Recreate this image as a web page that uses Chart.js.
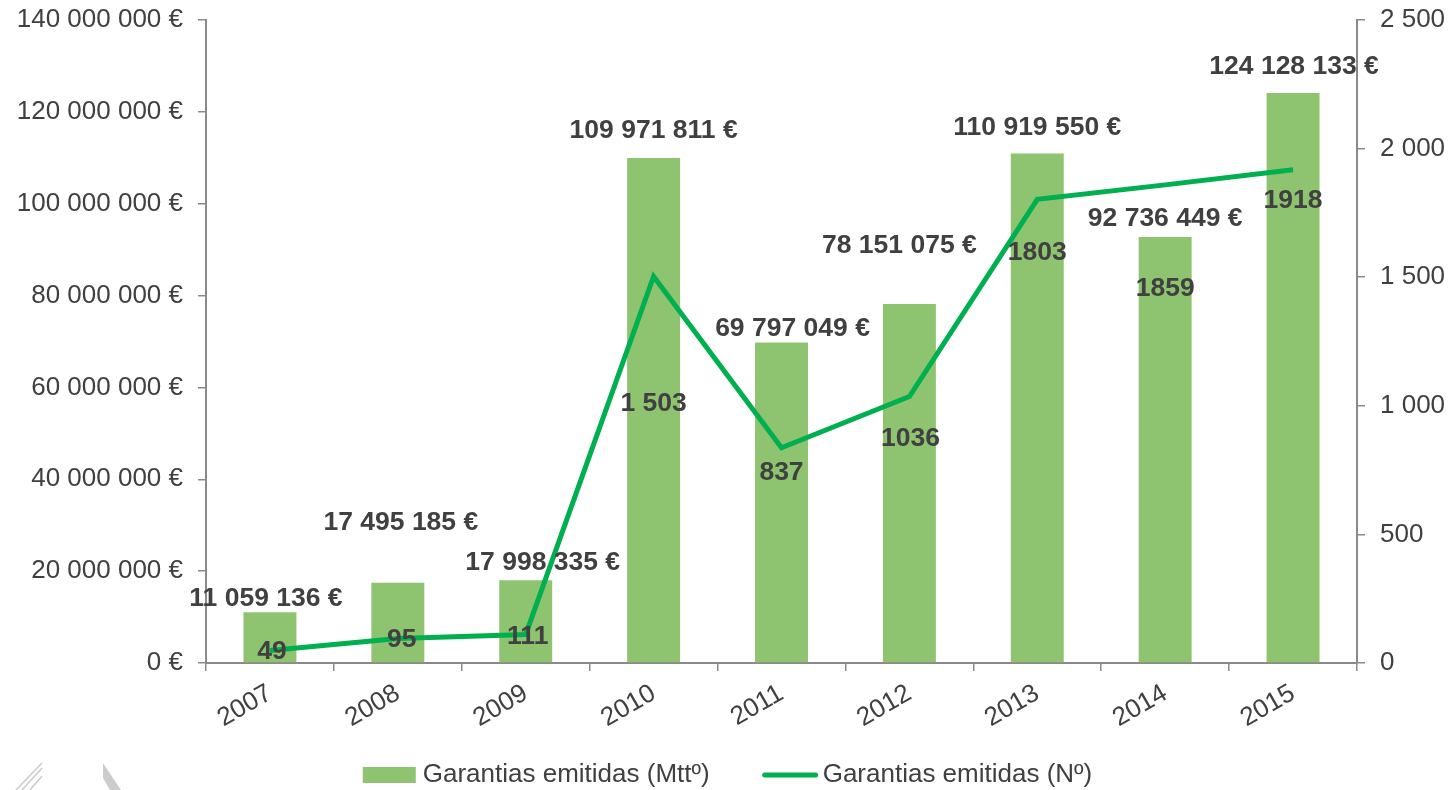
<!DOCTYPE html>
<html>
<head>
<meta charset="utf-8">
<script src="https://cdn.jsdelivr.net/npm/chart.js"></script>
<style>
  html, body { margin: 0; padding: 0; background: #fff; }
  #wrap { width: 1455px; height: 790px; position: relative; }
</style>
</head>
<body>
<div id="wrap"><canvas id="chart"></canvas></div>
<script>
// 데이터
const years = ['2007', '2008', '2009', '2010', '2011', '2012', '2013', '2014', '2015'];
const montantes = [11059136, 17495185, 17998335, 109971811, 69797049, 78151075, 110919550, 92736449, 124128133];
const numeros = [49, 95, 111, 1503, 837, 1036, 1803, 1859, 1918];
const numeroLabels = ['49', '95', '111', '1 503', '837', '1036', '1803', '1859', '1918'];

// 라벨 위치 보정 (px)
const barLabelDx = [-4, 3, 17, 0, 11, -10, 0, 0, 1];
const barLabelRise = [14, 60, 18, 27, 14, 58, 26, 18, 26];
const lineLabelDx = [2, 4, 2, 0, 0, 1, 0, 0, 0];
const lineLabelDy = [1, 1, 2, 127, 25, 42, 53, 104, 31];

const FONT = "'Liberation Sans', Arial, sans-serif";
const TEXT = '#404040';
const AXIS = '#8a8a8a';
const BAR = '#8ec36f';
const LINE = '#00b050';

function spaced(n) {
  return String(Math.round(n)).replace(/\B(?=(\d{3})+(?!\d))/g, ' ');
}

// 데이터 라벨 플러그인
const labelPlugin = {
  id: 'labels',
  afterDatasetsDraw(chart) {
    const ctx = chart.ctx;
    ctx.save();
    ctx.font = 'bold 26.5px ' + FONT;
    ctx.fillStyle = TEXT;
    ctx.textAlign = 'center';
    ctx.textBaseline = 'middle';
    chart.getDatasetMeta(0).data.forEach((bar, i) => {
      ctx.fillText(spaced(montantes[i]) + ' €', bar.x + barLabelDx[i], bar.y - barLabelRise[i]);
    });
    chart.getDatasetMeta(1).data.forEach((pt, i) => {
      ctx.fillText(numeroLabels[i], pt.x + lineLabelDx[i], pt.y + lineLabelDy[i]);
    });
    ctx.restore();
  }
};

// 범례 + 좌하단 워터마크
const legendPlugin = {
  id: 'customLegend',
  afterDraw(chart) {
    const ctx = chart.ctx;
    const y = 775;
    ctx.save();

    // 희미한 로고 조각
    ctx.strokeStyle = 'rgba(160,160,160,0.55)';
    ctx.lineWidth = 1.5;
    [[16, 790, 42, 763], [22, 790, 42, 768], [30, 790, 42, 776]].forEach(([a, b, c, d]) => {
      ctx.beginPath(); ctx.moveTo(a, b); ctx.lineTo(c, d); ctx.stroke();
    });
    ctx.fillStyle = 'rgba(170,170,170,0.6)';
    ctx.beginPath();
    ctx.moveTo(103, 763); ctx.lineTo(121, 790); ctx.lineTo(110, 790); ctx.lineTo(103, 778);
    ctx.closePath(); ctx.fill();

    ctx.font = '26px ' + FONT;
    ctx.fillStyle = TEXT;
    ctx.textBaseline = 'middle';
    const t1 = chart.data.datasets[0].label;
    const t2 = chart.data.datasets[1].label;
    const w1 = ctx.measureText(t1).width;
    const w2 = ctx.measureText(t2).width;
    const total = 53 + 7 + w1 + 53 + 55 + 5 + w2;
    let x = (1455 - total) / 2;
    ctx.fillStyle = BAR;
    ctx.fillRect(x, y - 8, 53, 16);
    x += 60;
    ctx.fillStyle = TEXT;
    ctx.fillText(t1, x, y);
    x += w1 + 53;
    ctx.strokeStyle = LINE;
    ctx.lineWidth = 5;
    ctx.lineCap = 'round';
    ctx.beginPath();
    ctx.moveTo(x + 2, y);
    ctx.lineTo(x + 53, y);
    ctx.stroke();
    x += 60;
    ctx.fillText(t2, x, y);
    ctx.restore();
  }
};

// 세로축 폭 고정, 위쪽 여백 제거
function fixY(width) {
  return scale => {
    scale.width = width;
    scale.paddingTop = 0;
    scale.paddingBottom = 0;
  };
}

const ctx = document.getElementById('chart');
new Chart(ctx, {
  data: {
    labels: years,
    datasets: [
      {
        type: 'bar',
        label: 'Garantias emitidas (Mttº)',
        data: montantes,
        yAxisID: 'y',
        backgroundColor: BAR,
        barPercentage: 0.414,
        categoryPercentage: 1,
        order: 1
      },
      {
        type: 'line',
        label: 'Garantias emitidas (Nº)',
        data: numeros,
        yAxisID: 'y1',
        borderColor: LINE,
        borderWidth: 5,
        pointRadius: 0,
        tension: 0,
        order: 0
      }
    ]
  },
  options: {
    responsive: true,
    maintainAspectRatio: false,
    animation: false,
    layout: { padding: { top: 20, left: 0, right: 0, bottom: 50 } },
    plugins: {
      legend: { display: false },
      tooltip: { enabled: false }
    },
    scales: {
      x: {
        grid: { offset: true, drawOnChartArea: false, drawTicks: true, tickLength: 8, color: AXIS, lineWidth: 1.5 },
        border: { color: AXIS, width: 2 },
        ticks: { color: TEXT, font: { family: FONT, size: 26 }, minRotation: 30, maxRotation: 30, padding: 7 },
        afterFit(scale) {
          scale.height = 77;
          scale.paddingLeft = 0;
          scale.paddingRight = 0;
        }
      },
      y: {
        position: 'left',
        min: 0,
        max: 140000000,
        grid: { drawOnChartArea: false, drawTicks: true, tickLength: 8, color: AXIS, lineWidth: 1.5 },
        border: { color: AXIS, width: 2 },
        ticks: {
          stepSize: 20000000,
          color: TEXT,
          font: { family: FONT, size: 26 },
          padding: 15,
          callback: v => spaced(v) + ' €'
        },
        afterFit: fixY(206)
      },
      y1: {
        position: 'right',
        min: 0,
        max: 2500,
        grid: { drawOnChartArea: false, drawTicks: true, tickLength: 8, color: AXIS, lineWidth: 1.5 },
        border: { color: AXIS, width: 2 },
        ticks: {
          stepSize: 500,
          color: TEXT,
          font: { family: FONT, size: 26 },
          padding: 15,
          callback: v => spaced(v)
        },
        afterFit: fixY(98)
      }
    }
  },
  plugins: [labelPlugin, legendPlugin]
});
</script>
</body>
</html>
